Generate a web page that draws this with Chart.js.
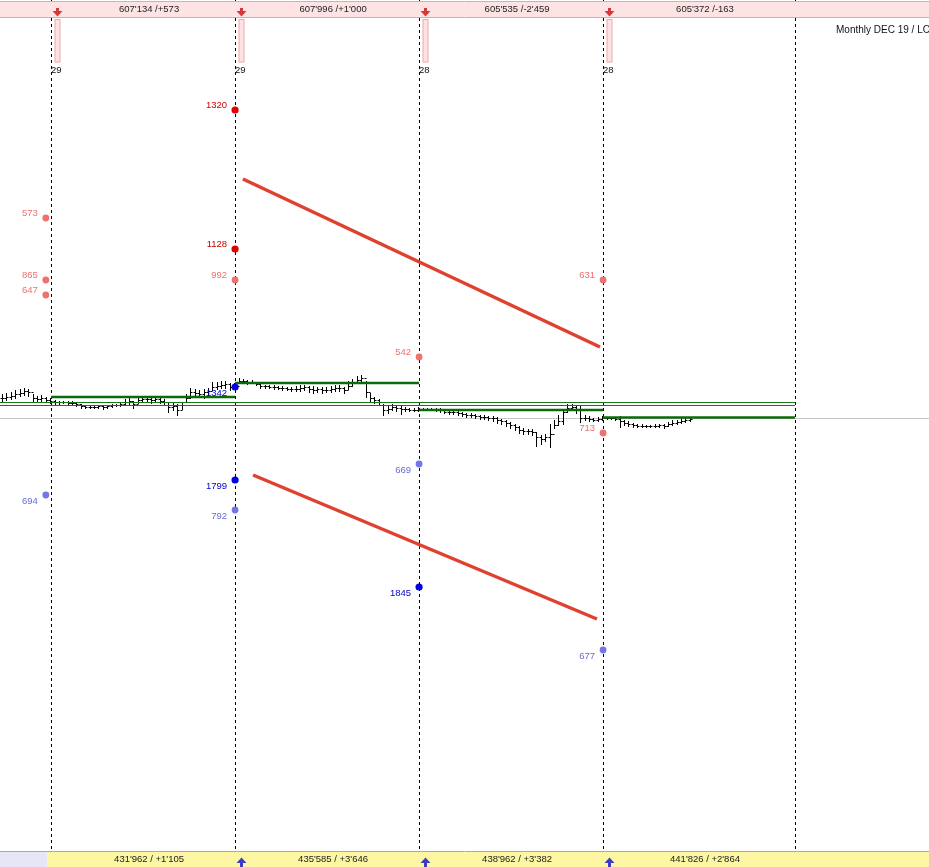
<!DOCTYPE html>
<html>
<head>
<meta charset="utf-8">
<script src="https://cdn.jsdelivr.net/npm/chart.js@4.4.1/dist/chart.umd.min.js"></script>
<style>
html, body { margin: 0; padding: 0; background: #fff; overflow: hidden; }
canvas { display: block; }
</style>
</head>
<body>
<canvas id="chart" width="929" height="867"></canvas>
<script>
// price bars, one per index
const highs = [3024,3025,3026,3028,3029,3030,3029,3024,3022,3023,
  3021,3020,3018,3017,3017,3017,3017,3016,3014,3013,
  3013,3013,3013,3013,3013,3014,3014,3015,3019,3020,
  3017,3020,3021,3021,3021,3022,3020,3019,3015,3015,
  3014,3016,3024,3030,3029,3028,3029,3030,3036,3036,
  3037,3037,3035,3035,3040,3039,3038,3038,3036,3034,
  3033,3033,3033,3032,3032,3031,3031,3032,3033,3033,
  3032,3032,3031,3031,3031,3032,3033,3033,3031,3037,
  3039,3042,3043,3037,3025,3021,3019,3014,3013,3014,
  3013,3012,3011,3010,3010,3011,3010,3010,3010,3010,
  3010,3008,3008,3007,3007,3006,3005,3005,3004,3003,
  3003,3002,3002,3001,2999,2998,2996,2994,2992,2990,
  2989,2989,2986,2983,2984,2994,2998,3003,3009,3014,
  3014,3013,3013,3003,3002,3000,3001,3002,3001,3001,
  3001,3002,2998,2997,2995,2994,2994,2993,2993,2994,
  2994,2994,2996,2998,2998,3000,3000,3001];
const lows = [3017,3018,3019,3020,3022,3023,3022,3017,3016,3017,
  3016,3015,3014,3014,3015,3014,3014,3012,3010,3010,
  3010,3010,3010,3009,3010,3011,3012,3012,3013,3014,
  3010,3015,3016,3016,3015,3016,3015,3014,3006,3008,
  3003,3009,3017,3020,3022,3021,3020,3021,3028,3029,
  3030,3030,3028,3029,3035,3035,3034,3035,3033,3030,
  3030,3030,3029,3029,3028,3028,3027,3027,3027,3028,
  3026,3025,3026,3025,3026,3026,3027,3027,3025,3029,
  3032,3035,3036,3021,3016,3015,3014,3003,3005,3008,
  3007,3004,3007,3007,3007,3007,3008,3008,3008,3007,
  3006,3005,3004,3004,3003,3002,3001,3001,3000,2999,
  2999,2998,2997,2995,2994,2992,2990,2988,2985,2984,
  2984,2983,2972,2974,2977,2971,2990,2993,2994,3006,
  3008,3005,2996,2998,2997,2997,2997,2998,2999,2999,
  2998,2991,2993,2992,2991,2991,2991,2991,2991,2991,
  2991,2990,2992,2993,2994,2995,2996,2997];
const closes = [3020,3021,3022,3024,3025,3027,3026,3020,3019,3020,
  3018,3017,3016,3016,3016,3015,3015,3014,3012,3011,
  3011,3011,3012,3011,3012,3013,3013,3014,3016,3017,
  3014,3018,3019,3019,3018,3019,3017,3016,3011,3012,
  3008,3013,3020,3026,3025,3024,3026,3027,3031,3032,
  3033,3034,3031,3032,3037,3037,3036,3036,3034,3032,
  3032,3031,3031,3030,3030,3029,3029,3029,3030,3031,
  3029,3028,3029,3028,3028,3029,3030,3030,3028,3032,
  3035,3038,3040,3026,3020,3018,3016,3008,3009,3011,
  3010,3009,3009,3008,3008,3009,3009,3009,3009,3009,
  3008,3006,3006,3006,3005,3004,3003,3003,3002,3001,
  3001,3000,3000,2998,2997,2995,2993,2991,2988,2987,
  2987,2986,2981,2979,2981,2984,2993,2997,3006,3010,
  3011,3008,3000,3000,2999,2998,2999,3000,3000,3000,
  2999,2997,2995,2994,2993,2992,2992,2992,2992,2992,
  2993,2992,2994,2995,2996,2997,2998,2999];

// months (boundaries in bar index)
const monthStarts = [11.2, 53.2, 95.2, 137.2];
const lastBoundary = 181;
const monthDays = ['29', '29', '28', '28'];
const topLabels = ["607'134 /+573", "607'996 /+1'000", "605'535 /-2'459", "605'372 /-163"];
const bottomLabels = ["431'962 / +1'105", "435'585 / +3'646", "438'962 / +3'382", "441'826 / +2'864"];
const monthLevels = [3021, 3035, 3008, 3000.5];
const bandLevels = [3015.5, 3012.5];
const baseLevel = 3000;

// trend lines [x, price]
const upperTrend = [[55.0, 3239], [136.5, 3071]];
const lowerTrend = [[57.3, 2943], [135.8, 2799]];

// marked levels
const darkRedX = [53.2, 53.2];
const darkRedY = [3308, 3169];
const darkRedTxt = ['1320', '1128'];
const lightRedX = [10.0, 10.0, 10.0, 53.2, 95.2, 137.2, 137.2];
const lightRedY = [3200, 3138, 3123, 3138, 3061, 3138, 2985];
const lightRedTxt = ['573', '865', '647', '992', '542', '631', '713'];
const darkBlueX = [53.2, 53.2, 95.2];
const darkBlueY = [3031, 2938, 2831];
const darkBlueTxt = ['1342', '1799', '1845'];
const lightBlueX = [10.0, 53.2, 95.2, 137.2];
const lightBlueY = [2923, 2908, 2954, 2768];
const lightBlueTxt = ['694', '792', '669', '677'];

const FONT = '9.5px "Liberation Sans", Arial, sans-serif';

function pointSet(xs, ys, txt, color, textColor, above, r) {
  return {
    data: xs.map((x, i) => ({ x: x, y: ys[i] })),
    backgroundColor: color,
    borderWidth: 0,
    pointRadius: r,
    texts: txt,
    textColor: textColor,
    above: above,
    clip: false
  };
}

function lineSet(pts, color, width) {
  return {
    data: pts.map(p => ({ x: p[0], y: p[1] })),
    showLine: true,
    borderColor: color,
    borderWidth: width,
    pointRadius: 0,
    clip: false
  };
}

const bounds = monthStarts.concat([lastBoundary]);
const datasets = [
  pointSet(darkBlueX, darkBlueY, darkBlueTxt, '#0000e0', '#0000c8', false, 3.6),
  pointSet(lightBlueX, lightBlueY, lightBlueTxt, '#7474ec', '#6a6ad8', false, 3.4),
  pointSet(darkRedX, darkRedY, darkRedTxt, '#e00000', '#cc0000', true, 3.6),
  pointSet(lightRedX, lightRedY, lightRedTxt, '#f07070', '#f07070', true, 3.4),
  lineSet(upperTrend, '#e0412f', 3.5),
  lineSet(lowerTrend, '#e0412f', 3.5)
];
monthLevels.forEach((lv, i) => {
  datasets.push(lineSet([[bounds[i], lv], [bounds[i + 1], lv]], '#0b6b0b', 2.6));
});
bandLevels.forEach(lv => {
  datasets.push(lineSet([[-1, lv], [lastBoundary, lv]], '#1a761a', 1));
});

const chartDecor = {
  id: 'chartDecor',
  beforeDatasetsDraw(chart) {
    const ctx = chart.ctx, xs = chart.scales.x, ys = chart.scales.y;
    const W = chart.width, H = chart.height;
    ctx.save();
    // base level
    const by = Math.round(ys.getPixelForValue(baseLevel)) + 0.5;
    ctx.strokeStyle = '#c8c8c8';
    ctx.lineWidth = 1;
    ctx.beginPath(); ctx.moveTo(0, by); ctx.lineTo(W, by); ctx.stroke();
    // month separators
    ctx.strokeStyle = '#000';
    ctx.setLineDash([3, 3]);
    bounds.forEach(b => {
      const x = Math.round(xs.getPixelForValue(b)) + 0.5;
      ctx.beginPath(); ctx.moveTo(x, 0); ctx.lineTo(x, H); ctx.stroke();
    });
    ctx.setLineDash([]);
    // ohlc bars
    ctx.strokeStyle = '#000';
    closes.forEach((c, i) => {
      const x = Math.round(xs.getPixelForValue(i)) + 0.5;
      const yh = Math.round(ys.getPixelForValue(highs[i]));
      const yl = Math.round(ys.getPixelForValue(lows[i]));
      const yc = Math.round(ys.getPixelForValue(c)) + 0.5;
      const yo = Math.round(ys.getPixelForValue(i > 0 ? closes[i - 1] : c)) + 0.5;
      ctx.beginPath();
      ctx.moveTo(x, yh); ctx.lineTo(x, yl + 1);
      ctx.moveTo(x - 2, yo); ctx.lineTo(x, yo);
      ctx.moveTo(x, yc); ctx.lineTo(x + 2, yc);
      ctx.stroke();
    });
    ctx.restore();
  },
  afterDatasetsDraw(chart) {
    const ctx = chart.ctx, xs = chart.scales.x;
    const W = chart.width, H = chart.height;
    ctx.save();
    ctx.font = FONT;
    ctx.textBaseline = 'middle';
    // point labels
    chart.data.datasets.forEach((ds, di) => {
      if (!ds.texts) return;
      const meta = chart.getDatasetMeta(di);
      ctx.fillStyle = ds.textColor;
      ctx.textAlign = 'right';
      meta.data.forEach((pt, i) => {
        ctx.fillText(ds.texts[i], pt.x - 8, pt.y + (ds.above ? -5 : 6));
      });
    });

    // top band
    ctx.fillStyle = '#fde3e3';
    ctx.fillRect(0, 2, W, 15);
    ctx.strokeStyle = '#eba4a4';
    ctx.lineWidth = 1;
    ctx.beginPath();
    ctx.moveTo(0, 1.5); ctx.lineTo(W, 1.5);
    ctx.moveTo(0, 17.5); ctx.lineTo(W, 17.5);
    ctx.stroke();
    ctx.textAlign = 'center';
    ctx.fillStyle = '#222';
    topLabels.forEach((t, i) => {
      const cx = (xs.getPixelForValue(bounds[i]) + xs.getPixelForValue(bounds[i + 1])) / 2 + 6;
      ctx.fillText(t, cx, 9.5);
    });
    monthStarts.forEach((m, i) => {
      const x = Math.round(xs.getPixelForValue(m + 1.4)) + 0.5;
      // red down arrow
      ctx.fillStyle = '#d43a3a';
      ctx.fillRect(x - 1.5, 8, 3, 4);
      ctx.beginPath();
      ctx.moveTo(x - 5, 11); ctx.lineTo(x + 5, 11); ctx.lineTo(x, 16.5); ctx.closePath();
      ctx.fill();
      // marker box
      ctx.fillStyle = '#fde3e3';
      ctx.fillRect(x - 2.5, 19, 5, 43);
      ctx.strokeStyle = '#f0a8a8';
      ctx.strokeRect(x - 2.5, 19.5, 5, 42.5);
      ctx.fillStyle = '#111';
      ctx.textAlign = 'left';
      ctx.fillText(monthDays[i], Math.round(xs.getPixelForValue(m)), 70);
    });

    // bottom band
    const bx = Math.round(xs.getPixelForValue(monthStarts[0] - 0.9));
    ctx.fillStyle = '#e6e6f8';
    ctx.fillRect(0, 852, bx, 15);
    ctx.fillStyle = '#fdf6a2';
    ctx.fillRect(bx, 852, W - bx, 15);
    ctx.strokeStyle = '#a4a4d8';
    ctx.beginPath(); ctx.moveTo(0, 851.5); ctx.lineTo(W, 851.5); ctx.stroke();
    ctx.textAlign = 'center';
    ctx.fillStyle = '#222';
    bottomLabels.forEach((t, i) => {
      const cx = (xs.getPixelForValue(bounds[i]) + xs.getPixelForValue(bounds[i + 1])) / 2 + 6;
      ctx.fillText(t, cx, 859.5);
    });
    monthStarts.slice(1).forEach(m => {
      const x = Math.round(xs.getPixelForValue(m + 1.4)) + 0.5;
      ctx.fillStyle = '#3c3cc4';
      ctx.beginPath();
      ctx.moveTo(x - 5, 863); ctx.lineTo(x + 5, 863); ctx.lineTo(x, 857.5); ctx.closePath();
      ctx.fill();
      ctx.fillRect(x - 1.5, 862, 3, 5);
    });

    // title
    ctx.font = '10px "Liberation Sans", Arial, sans-serif';
    ctx.fillStyle = '#111';
    ctx.textAlign = 'left';
    ctx.fillText('Monthly DEC 19 / LOG', 836, 30.5);
    ctx.restore();
  }
};

new Chart(document.getElementById('chart'), {
  type: 'scatter',
  data: { datasets: datasets },
  options: {
    responsive: false,
    animation: false,
    devicePixelRatio: 1,
    events: [],
    layout: { padding: 0, autoPadding: false },
    plugins: { legend: { display: false }, tooltip: { enabled: false } },
    scales: {
      x: { type: 'linear', min: -0.4565, max: 211.6, display: false },
      y: { type: 'linear', min: 2551, max: 3418, display: false }
    }
  },
  plugins: [chartDecor]
});
</script>
</body>
</html>
